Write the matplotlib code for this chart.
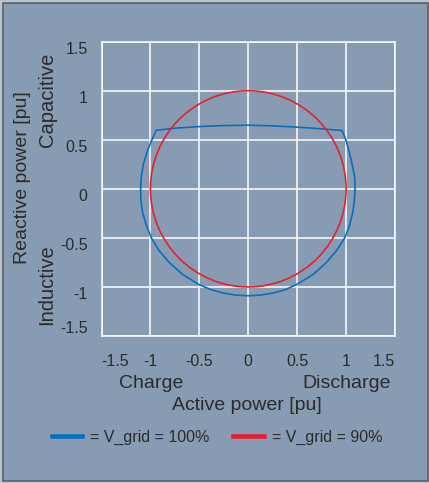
import matplotlib
matplotlib.use("Agg")
import matplotlib.pyplot as plt
from matplotlib.patches import Circle, Rectangle
from matplotlib.lines import Line2D

W, H = 429, 483

# P-Q capability at nominal grid voltage (pu), read around the curve
nominal_p = [0.96, 0.75, 0.5, 0.25, 0.0, -0.25, -0.5, -0.75, -0.94,
             -0.985, -1.035, -1.072, -1.093, -1.10, -1.097, -1.078, -1.04,
             -0.99, -0.915, -0.808, -0.668, -0.5, -0.375, -0.25, -0.125,
             0.0, 0.125, 0.25, 0.375, 0.5, 0.66, 0.80, 0.905, 0.986, 1.035,
             1.066, 1.085, 1.092, 1.087, 1.062, 1.032, 0.997, 0.96]
nominal_q = [0.594, 0.612, 0.629, 0.642, 0.649, 0.645, 0.635, 0.618, 0.598,
             0.5, 0.375, 0.25, 0.125, 0.0, -0.125, -0.25, -0.375,
             -0.5, -0.625, -0.75, -0.875, -0.977, -1.03, -1.063, -1.083,
             -1.09, -1.083, -1.063, -1.03, -0.972, -0.875, -0.75, -0.625, -0.5, -0.375,
             -0.25, -0.125, 0.0, 0.125, 0.25, 0.375, 0.5, 0.594]

# at 90 % grid voltage the limit is the plain 1 pu circle
reduced_radius = 1.0

ticks = [-1.5, -1, -0.5, 0, 0.5, 1, 1.5]
tick_labels = ["-1.5", "-1", "-0.5", "0", "0.5", "1", "1.5"]
legend_labels = ["= V_grid = 100%", "= V_grid = 90%"]

bg = "#879cb2"
txt = "#2b2b2b"
blue = "#0a6ebd"
red = "#e8202a"

plt.rcParams["font.family"] = ["Liberation Sans", "DejaVu Sans"]


def fx(x):
    return x / W


def fy(y):
    return 1 - y / H


fig = plt.figure(figsize=(W / 100, H / 100), dpi=100, facecolor="#b8c3ce")
fig.patches.append(Rectangle((fx(2.5), fy(481)), fx(425), 478 / H,
                             transform=fig.transFigure, facecolor=bg,
                             edgecolor="#4f5b67", linewidth=1.1, zorder=-10))

ax = fig.add_axes([fx(101.5), fy(336), fx(293.5), 294.3 / H])
ax.set_zorder(1)
ax.set_facecolor(bg)
ax.set_xlim(-1.5, 1.5)
ax.set_ylim(-1.5, 1.5)

ax.plot(nominal_p, nominal_q, color=blue, lw=1.2, zorder=3)
ax.add_patch(Circle((0, 0), reduced_radius, fill=False, ec=red, lw=1.2, zorder=3))

ax.set_xticks(ticks)
ax.set_xticklabels(tick_labels)
ax.set_yticks(ticks)
ax.set_yticklabels(tick_labels)
ax.tick_params(length=0, labelsize=11.5, colors=txt)
ax.tick_params(axis="x", pad=13)
ax.tick_params(axis="y", pad=10)
xl = ax.get_xticklabels()
xl[0].set_ha("left")
xl[-1].set_ha("right")
for lab in ax.get_yticklabels():
    lab.set_va("top")
ax.get_yticklabels()[0].set_va("bottom")

ax.grid(True, color="white", lw=1.1)
ax.set_axisbelow(True)
for s in ax.spines.values():
    s.set_color("white")
    s.set_linewidth(1.1)

# axis captions
fig.text(fx(151), fy(383), "Charge", ha="center", va="center", fontsize=14, color=txt)
fig.text(fx(347), fy(383), "Discharge", ha="center", va="center", fontsize=14, color=txt)
fig.text(fx(247), fy(405.5), "Active power [pu]", ha="center", va="center", fontsize=14, color=txt)
fig.text(fx(23), fy(178), "Reactive power [pu]", rotation=90, ha="center", va="center", fontsize=14, color=txt)
fig.text(fx(47), fy(100), "Capacitive", rotation=90, ha="center", va="center", fontsize=14.5, color=txt)
fig.text(fx(47), fy(285), "Inductive", rotation=90, ha="center", va="center", fontsize=14.5, color=txt)

handles = [Line2D([], [], color=blue, lw=3.3), Line2D([], [], color=red, lw=3.3)]
fig.legend(handles, legend_labels, loc="center", bbox_to_anchor=(fx(217), fy(437)),
           ncol=2, frameon=False, fontsize=11.5, labelcolor=txt,
           handlelength=1.9, handletextpad=0.5, columnspacing=1.5)

fig.savefig("out.png", dpi=100, facecolor=fig.get_facecolor())
